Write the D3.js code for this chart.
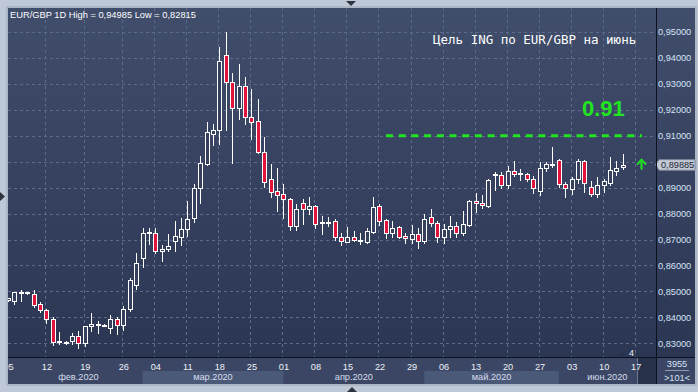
<!DOCTYPE html>
<html><head><meta charset="utf-8">
<script src="https://cdn.jsdelivr.net/npm/d3@7/dist/d3.min.js"></script>
<style>html,body{margin:0;padding:0;background:#bec8d6;overflow:hidden}svg{display:block}</style>
</head><body>
<svg id="chart" width="698" height="392"></svg>
<script>
// ---------------- DATA ----------------
const dates = [
"2020-02-05","2020-02-06","2020-02-07","2020-02-09","2020-02-10","2020-02-11","2020-02-12","2020-02-13","2020-02-14","2020-02-16",
"2020-02-17","2020-02-18","2020-02-19","2020-02-20","2020-02-21","2020-02-23","2020-02-24","2020-02-25","2020-02-26","2020-02-27",
"2020-02-28","2020-03-02","2020-03-03","2020-03-04","2020-03-05","2020-03-06","2020-03-09","2020-03-10","2020-03-11","2020-03-12",
"2020-03-13","2020-03-16","2020-03-17","2020-03-18","2020-03-19","2020-03-20","2020-03-23","2020-03-24","2020-03-25","2020-03-26",
"2020-03-27","2020-03-30","2020-03-31","2020-04-01","2020-04-02","2020-04-03","2020-04-06","2020-04-07","2020-04-08","2020-04-09",
"2020-04-10","2020-04-13","2020-04-14","2020-04-15","2020-04-16","2020-04-17","2020-04-20","2020-04-21","2020-04-22","2020-04-23",
"2020-04-24","2020-04-27","2020-04-28","2020-04-29","2020-04-30","2020-05-01","2020-05-04","2020-05-05","2020-05-06","2020-05-07",
"2020-05-08","2020-05-11","2020-05-12","2020-05-13","2020-05-14","2020-05-15","2020-05-18","2020-05-19","2020-05-20","2020-05-21",
"2020-05-22","2020-05-25","2020-05-26","2020-05-27","2020-05-28","2020-05-29","2020-06-01","2020-06-02","2020-06-03","2020-06-04",
"2020-06-05","2020-06-08","2020-06-09","2020-06-10","2020-06-11","2020-06-12","2020-06-15"];

const open = [
0.8466,0.8464,0.8496,0.8492,0.8490,0.8451,0.8427,0.8392,0.8304,0.8302,
0.8307,0.8330,0.8303,0.8366,0.8373,0.8371,0.8360,0.8392,0.8369,0.8431,
0.8524,0.8627,0.8725,0.8727,0.8654,0.8662,0.8695,0.8711,0.8739,0.8784,
0.8897,0.8991,0.9108,0.9121,0.9411,0.9306,0.9208,0.9291,0.9173,0.9156,
0.9038,0.8932,0.8889,0.8875,0.8856,0.8753,0.8840,0.8818,0.8829,0.8765,
0.8767,0.8770,0.8710,0.8691,0.8708,0.8699,0.8691,0.8730,0.8829,0.8774,
0.8726,0.8747,0.8712,0.8703,0.8721,0.8694,0.8786,0.8763,0.8710,0.8739,
0.8754,0.8726,0.8757,0.8847,0.8839,0.8829,0.8949,0.8948,0.8911,0.8963,
0.8955,0.8952,0.8932,0.8887,0.8974,0.8990,0.9006,0.8913,0.8896,0.8933,
0.9001,0.8901,0.8875,0.8909,0.8919,0.8965,0.8980];

const high = [
0.8476,0.8497,0.8504,0.8497,0.8505,0.8459,0.8434,0.8401,0.8343,0.8309,
0.8338,0.8347,0.8368,0.8417,0.8387,0.8373,0.8409,0.8401,0.8443,0.8552,
0.8647,0.8743,0.8743,0.8743,0.8678,0.8721,0.8771,0.8782,0.8848,0.8914,
0.9022,0.9153,0.9145,0.9441,0.94985,0.9343,0.9375,0.9326,0.9280,0.9242,
0.9095,0.8991,0.8975,0.8914,0.8859,0.8837,0.8857,0.8864,0.8833,0.8790,
0.8785,0.8778,0.8724,0.8749,0.8733,0.8726,0.8744,0.8864,0.8837,0.8778,
0.8771,0.8752,0.8724,0.8756,0.8743,0.8798,0.8817,0.8770,0.8758,0.8790,
0.8768,0.8811,0.8852,0.8880,0.8871,0.8932,0.8961,0.8961,0.8983,0.9002,
0.8973,0.8956,0.8944,0.8999,0.8999,0.9058,0.9010,0.8921,0.8942,0.9009,
0.9006,0.8926,0.8940,0.8933,0.9017,0.9002,0.9029];

const low = [
0.8464,0.8452,0.8462,0.8491,0.8441,0.8420,0.8379,0.8293,0.8297,0.8297,
0.8297,0.82815,0.8290,0.8348,0.8340,0.8369,0.8338,0.8337,0.8351,0.8425,
0.8511,0.8593,0.8682,0.8649,0.8618,0.8654,0.8657,0.8679,0.8713,0.8768,
0.8842,0.8987,0.9064,0.9068,0.9122,0.8996,0.9163,0.9146,0.9088,0.9034,
0.8903,0.8865,0.8811,0.8784,0.8736,0.8736,0.8759,0.8798,0.8743,0.8721,
0.8752,0.8698,0.8678,0.8690,0.8695,0.8682,0.8687,0.8726,0.8756,0.8707,
0.8708,0.8704,0.8687,0.8687,0.8666,0.8687,0.8753,0.8689,0.8687,0.8708,
0.8710,0.8717,0.8752,0.8807,0.8822,0.8826,0.8891,0.8899,0.8899,0.8944,
0.8929,0.8924,0.8880,0.8871,0.8965,0.8978,0.8903,0.8865,0.8875,0.8919,
0.8884,0.8867,0.8865,0.8883,0.8911,0.8950,0.8970];

const close = [
0.8474,0.8496,0.8499,0.8496,0.8448,0.8427,0.8392,0.8306,0.8309,0.8306,
0.8330,0.8303,0.8365,0.8373,0.8375,0.8372,0.8392,0.8369,0.8431,0.8544,
0.8608,0.8724,0.8728,0.8656,0.8662,0.8675,0.8713,0.8739,0.8781,0.8897,
0.8994,0.9113,0.9121,0.9387,0.9306,0.9208,0.9291,0.9173,0.9152,0.9038,
0.8923,0.8884,0.8872,0.8855,0.8753,0.8816,0.8818,0.8829,0.8761,0.8767,
0.8768,0.8710,0.8693,0.8708,0.8700,0.8700,0.8732,0.8824,0.8772,0.8726,
0.8743,0.8710,0.8704,0.8721,0.8694,0.8778,0.8762,0.8710,0.8740,0.8754,
0.8727,0.8758,0.8847,0.8839,0.8832,0.8928,0.8952,0.8911,0.8963,0.8953,
0.8956,0.8932,0.8899,0.8974,0.8991,0.8991,0.8913,0.8897,0.8932,0.9001,
0.8916,0.8875,0.8909,0.8924,0.8967,0.8974,0.89885];

// future (empty) slots shown on the axis
const futureDates = ["2020-06-16","2020-06-17","2020-06-18","2020-06-19","2020-06-22"];

const tickDates = ["2020-02-05","2020-02-12","2020-02-19","2020-02-26","2020-03-04","2020-03-11","2020-03-18","2020-03-25",
"2020-04-01","2020-04-08","2020-04-15","2020-04-22","2020-04-29","2020-05-06","2020-05-13","2020-05-20","2020-05-27",
"2020-06-03","2020-06-10","2020-06-17"];
const tickLabels = ["05","12","19","26","04","11","18","25","01","08","15","22","29","06","13","20","27","03","10","17"];

const monthKeys = ["2020-02","2020-03","2020-04","2020-05","2020-06"];
const monthLabels = ["фев.2020","мар.2020","апр.2020","май.2020","июн.2020"];

const yTicks = [0.83,0.84,0.85,0.86,0.87,0.88,0.89,0.90,0.91,0.92,0.93,0.94,0.95];
const targetLevel = 0.91;
const lastPrice = 0.89885;
const titleText = "EUR/GBP 1D High = 0,94985 Low = 0,82815";
const noteText = "Цель ING по EUR/GBP на июнь";
const targetText = "0.91";
const barsShown = "3955";
const barsCount = ">101<";

// ---------------- LAYOUT ----------------
const svg = d3.select("#chart");
const L = 8, R = 656, T = 8, B = 357, PR = 695, PB = 384;

const slots = dates.concat(futureDates);
const x = d3.scaleLinear().domain([0, 101.17]).range([L, R]);
const xd = d => x(slots.indexOf(d));
const y = d3.scaleLinear().domain([0.83, 0.95]).range([343.3, 32]);

const defs = svg.append("defs");
const g1 = defs.append("linearGradient").attr("id","bg").attr("x1",0).attr("y1",0).attr("x2",0).attr("y2",1);
g1.append("stop").attr("offset","0%").attr("stop-color","#404d6b");
g1.append("stop").attr("offset","100%").attr("stop-color","#2b3653");
defs.append("clipPath").attr("id","plotclip").append("rect").attr("x",L).attr("y",T).attr("width",R-L).attr("height",B-T);
defs.append("clipPath").attr("id","axclip").append("rect").attr("x",L).attr("y",B).attr("width",R-L).attr("height",PB-B);

// outer background
svg.append("rect").attr("width",698).attr("height",392).attr("fill","#bec8d6");
svg.append("rect").attr("x",L-1).attr("y",T-1).attr("width",PR-L+2).attr("height",PB-T+2).attr("fill","none").attr("stroke","#98a4b8");
// plot bg
svg.append("rect").attr("x",L).attr("y",T).attr("width",R-L).attr("height",B-T).attr("fill","url(#bg)");
// right panel
svg.append("rect").attr("x",R).attr("y",T).attr("width",PR-R).attr("height",B-T).attr("fill","url(#bg)");
// bottom panel
svg.append("rect").attr("x",L).attr("y",B).attr("width",PR-L).attr("height",PB-B).attr("fill","#3a4664");

// month bands in bottom panel
const monthInfo = monthKeys.map((k,i) => {
  const idx = slots.map((d,j)=>d.startsWith(k)?j:-1).filter(j=>j>=0);
  const x0 = Math.max(x(idx[0]), x(1));
  const x1 = (i < monthKeys.length-1) ? x(idx[idx.length-1]+1) : R;
  return {k, label: monthLabels[i], x0, x1, shade: i % 2 === 1};
});
const ax = svg.append("g").attr("clip-path","url(#axclip)");
ax.selectAll("rect.mb").data(monthInfo.filter(m=>m.shade)).enter().append("rect")
  .attr("x",m=>m.x0).attr("y",371).attr("width",m=>m.x1-m.x0).attr("height",PB-371).attr("fill","#4b5979");
// dark "current" block
ax.append("rect").attr("x",637.5).attr("y",B).attr("width",R-637.5).attr("height",PB-B).attr("fill","#27314a");
ax.append("line").attr("x1",637.5).attr("x2",637.5).attr("y1",B).attr("y2",PB).attr("stroke","#6b7890");

ax.selectAll("text.ml").data(monthInfo).enter().append("text")
  .attr("x",m=>(m.x0+m.x1)/2).attr("y",379.5).attr("text-anchor","middle")
  .attr("font-family","Liberation Sans, Arial, sans-serif").attr("font-size",9.2).attr("fill","#d5ddeb")
  .text(m=>m.label);

// bottom date axis
const xAxis = d3.axisBottom(x).tickValues(tickDates.map(d=>slots.indexOf(d)))
  .tickFormat((d,i)=>tickLabels[i]).tickSize(0).tickPadding(6);
const xg = ax.append("g").attr("transform",`translate(0,${B})`).call(xAxis);
xg.select(".domain").remove();
xg.selectAll("text").attr("font-family","Liberation Sans, Arial, sans-serif").attr("font-size",9.2).attr("fill","#eef2f8");

// grid
const plot = svg.append("g").attr("clip-path","url(#plotclip)");
plot.selectAll("line.hg").data(yTicks).enter().append("line")
  .attr("x1",L).attr("x2",R).attr("y1",d=>Math.round(y(d))+0.5).attr("y2",d=>Math.round(y(d))+0.5)
  .attr("stroke","#5c6b89").attr("stroke-dasharray","3,3");
plot.selectAll("line.vg").data(tickDates).enter().append("line")
  .attr("x1",d=>Math.round(xd(d))-0.5).attr("x2",d=>Math.round(xd(d))-0.5).attr("y1",T).attr("y2",B)
  .attr("stroke","#5c6b89").attr("stroke-dasharray","3,3");

// target dashed line
plot.append("line").attr("x1",386).attr("x2",642).attr("y1",y(targetLevel)).attr("y2",y(targetLevel))
  .attr("stroke","#22e322").attr("stroke-width",3).attr("stroke-dasharray","7,5.7");

// candles
const data = dates.map((d,i)=>({d, o:open[i], h:high[i], l:low[i], c:close[i]}));
const cg = plot.selectAll("g.c").data(data).enter().append("g");
cg.append("line")
  .attr("x1",d=>Math.round(xd(d.d))+0.5).attr("x2",d=>Math.round(xd(d.d))+0.5)
  .attr("y1",d=>Math.round(y(d.h))).attr("y2",d=>Math.round(y(d.l))+1)
  .attr("stroke","#ffffff").attr("stroke-width",1);
cg.append("rect")
  .attr("x",d=>Math.round(xd(d.d))-1.5)
  .attr("y",d=>Math.round(y(Math.max(d.o,d.c)))+0.5)
  .attr("width",4)
  .attr("height",d=>Math.max(1, Math.round(y(Math.min(d.o,d.c))) - Math.round(y(Math.max(d.o,d.c)))))
  .attr("fill",d=>d.c < d.o ? "#e3143c" : "#34405d")
  .attr("stroke","#ffffff").attr("stroke-width",1);

// arrow marker for last price
const ay = y(lastPrice);
plot.append("line").attr("x1",641.5).attr("x2",641.5).attr("y1",ay-3).attr("y2",ay+5).attr("stroke","#22e322").attr("stroke-width",2);
plot.append("path").attr("d",`M637,${ay}L641.5,${ay-5}L646,${ay}`).attr("fill","none").attr("stroke","#22e322").attr("stroke-width",2);

// texts in plot
svg.append("text").attr("x",10).attr("y",17.5).attr("font-family","Liberation Sans, Arial, sans-serif")
  .attr("font-size",9.3).attr("fill","#ffffff").text(titleText);
svg.append("text").attr("x",433).attr("y",44).attr("font-family","DejaVu Sans Mono, monospace")
  .attr("font-size",12.5).attr("fill","#ffffff").text(noteText);
svg.append("text").attr("x",582).attr("y",116).attr("font-family","Liberation Sans, Arial, sans-serif")
  .attr("font-weight","bold").attr("font-size",22).attr("fill","#22e322").text(targetText);
svg.append("text").attr("x",629).attr("y",356).attr("font-family","Liberation Sans, Arial, sans-serif")
  .attr("font-size",9).attr("fill","#e8eef8").text("4");
svg.append("path").attr("d","M619,356L622,352.5L625,356Z").attr("fill","#27314a");

// right axis (the label hidden under the last-price box is skipped)
const yAxis = d3.axisRight(y).tickValues(yTicks.filter(v => Math.abs(y(v) - y(lastPrice)) > 8))
  .tickFormat(d=>d.toFixed(5).replace(".",",")).tickSize(0).tickPadding(2);
const yg = svg.append("g").attr("transform",`translate(${R},0)`).call(yAxis);
yg.select(".domain").remove();
yg.selectAll("text").attr("font-family","Liberation Sans, Arial, sans-serif").attr("font-size",9.2).attr("fill","#d6e3f6");

// last price label
svg.append("path").attr("d",`M655.5,${ay}L659,${ay-5}L695,${ay-5}L695,${ay+5.5}L659,${ay+5.5}Z`)
  .attr("fill","#c3cad6").attr("stroke","#7d889c");
svg.append("text").attr("x",661).attr("y",ay+3.5).attr("font-family","Liberation Sans, Arial, sans-serif")
  .attr("font-size",9.2).attr("fill","#1a2234").text(lastPrice.toFixed(5).replace(".",","));

// separators
svg.append("line").attr("x1",R+0.5).attr("x2",R+0.5).attr("y1",T).attr("y2",PB).attr("stroke","#0d1220");
svg.append("line").attr("x1",L).attr("x2",PR).attr("y1",B+0.5).attr("y2",B+0.5).attr("stroke","#0d1220");

// bottom-right box
svg.append("text").attr("x",677).attr("y",367).attr("text-anchor","middle").attr("font-family","Liberation Sans, Arial, sans-serif")
  .attr("font-size",9.2).attr("fill","#d6e3f6").text(barsShown);
svg.append("line").attr("x1",665).attr("x2",689).attr("y1",370.5).attr("y2",370.5).attr("stroke","#8d9ab2");
svg.append("text").attr("x",677).attr("y",381).attr("text-anchor","middle").attr("font-family","Liberation Sans, Arial, sans-serif")
  .attr("font-size",9.2).attr("fill","#d6e3f6").text(barsCount);

// scroll markers
svg.append("path").attr("d","M346,1L356,1L351,6Z").attr("fill","#2d3440");
svg.append("path").attr("d","M347,392L357,392L352,387Z").attr("fill","#2d3440");
svg.append("path").attr("d","M0,192L5,196.5L0,201Z").attr("fill","#2d3440");
</script>
</body></html>
